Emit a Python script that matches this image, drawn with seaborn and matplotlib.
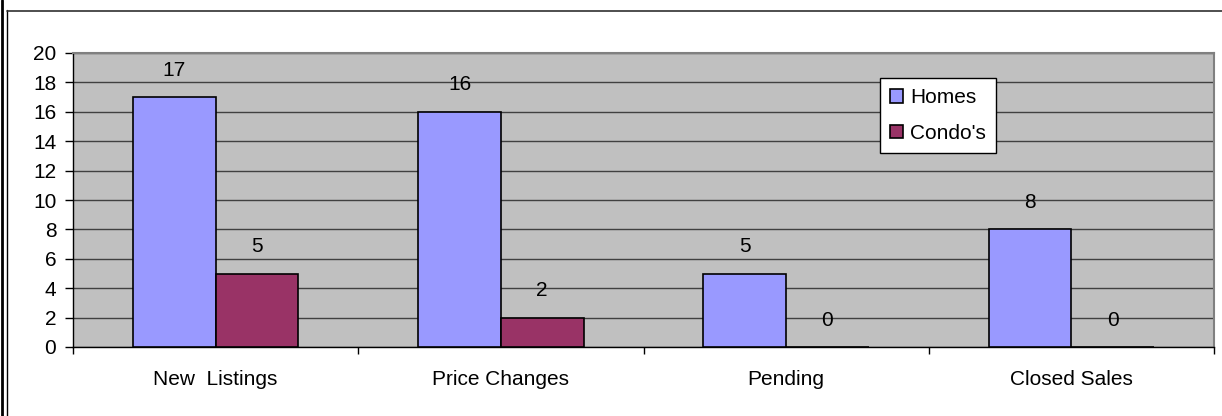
import matplotlib
matplotlib.use("Agg")
import matplotlib.pyplot as plt
import pandas as pd
import seaborn as sns
from matplotlib.lines import Line2D

categories = ["New  Listings", "Price Changes", "Pending", "Closed Sales"]
homes = [17, 16, 5, 8]
condos = [5, 2, 0, 0]
series = ["Homes", "Condo's"]
colors = ["#9999FF", "#993366"]
yticks = list(range(0, 21, 2))

df = pd.DataFrame({
    "category": categories * 2,
    "value": homes + condos,
    "series": [series[0]] * len(homes) + [series[1]] * len(condos),
})

sns.set_style("white")
plt.rcParams["font.family"] = ["Liberation Sans", "DejaVu Sans"]
plt.rcParams["font.size"] = 15
plt.rcParams["text.color"] = "black"
plt.rcParams["xtick.color"] = "black"
plt.rcParams["ytick.color"] = "black"
plt.rcParams["xtick.labelcolor"] = "black"
plt.rcParams["ytick.labelcolor"] = "black"

W, H = 1222, 416
fig = plt.figure(figsize=(W / 100, H / 100), dpi=100)
ax = fig.add_axes([73 / W, 1 - 347 / H, (1214 - 73) / W, (347 - 53) / H])
ax.set_facecolor("#C0C0C0")

sns.barplot(data=df, x="category", y="value", hue="series", palette=colors,
            width=0.58, saturation=1, edgecolor="black", linewidth=1.2,
            ax=ax, zorder=3)

for cont in ax.containers:
    ax.bar_label(cont, fmt="%d", padding=12.5, fontsize=15, color="black")

ax.set_ylim(0, 20)
ax.set_yticks(yticks)
ax.set_xlim(-0.5, len(categories) - 0.5)
ax.grid(axis="y", color="#404040", linewidth=1, zorder=0)
ax.set_axisbelow(True)
ax.set_xlabel("")
ax.set_ylabel("")

ax.set_xticks([i - 0.5 for i in range(len(categories) + 1)], minor=True)
ax.tick_params(axis="x", which="minor", length=5, width=1, color="black", direction="out", bottom=True)
ax.tick_params(axis="x", which="major", length=0, pad=16.5, labelsize=15)
ax.tick_params(axis="y", length=6, width=1, color="black", direction="out", left=True, pad=6, labelsize=15)

for side in ["left", "bottom"]:
    ax.spines[side].set_color("black")
    ax.spines[side].set_linewidth(1)
for side in ["top", "right"]:
    ax.spines[side].set_color("#808080")
    ax.spines[side].set_linewidth(1.5)

handles, labels = ax.get_legend_handles_labels()
leg = ax.legend(handles, labels, loc="upper left", bbox_to_anchor=(0.707, 0.915),
                borderaxespad=0, frameon=True, fancybox=False, shadow=False,
                handlelength=0.6, handleheight=0.6, handletextpad=0.35,
                labelspacing=0.8, borderpad=0.5, fontsize=15)
leg.get_frame().set_edgecolor("black")
leg.get_frame().set_linewidth(1)
leg.get_frame().set_facecolor("white")
leg.get_frame().set_alpha(1)
leg.set_zorder(5)

# outer chart border
fig.add_artist(Line2D([1.5 / W, 1.5 / W], [0, 1], color="black", linewidth=2, transform=fig.transFigure))
fig.add_artist(Line2D([7.5 / W, 7.5 / W], [0, 1 - 10 / H], color="black", linewidth=1, transform=fig.transFigure))
fig.add_artist(Line2D([7.5 / W, 1], [1 - 10.5 / H, 1 - 10.5 / H], color="#303030", linewidth=1.2, transform=fig.transFigure))

fig.savefig("out.png", dpi=100, facecolor="white")
